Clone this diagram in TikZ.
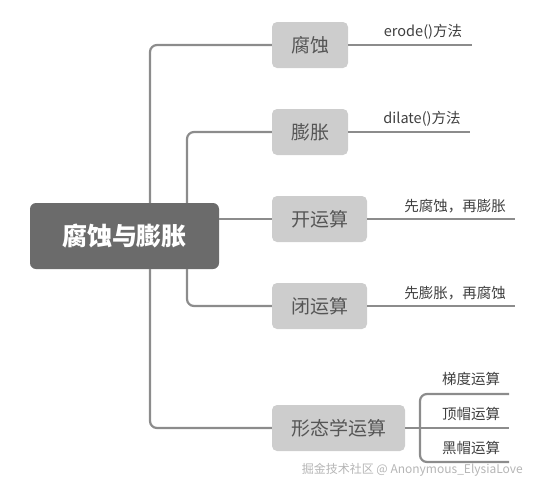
\documentclass[tikz,border=0pt]{standalone}
\usepackage{fontspec}
\setmainfont{Noto Sans CJK SC}
\newfontfamily\cjk{Noto Sans CJK SC}
\definecolor{linegray}{HTML}{8C8C8C}
\definecolor{boxgray}{HTML}{CDCDCD}
\definecolor{rootgray}{HTML}{6B6B6B}
\definecolor{txtgray}{HTML}{555555}
\definecolor{labgray}{HTML}{3F3F3F}
\definecolor{wmgray}{HTML}{B5B5B5}
\tikzset{
  conn/.style={draw=linegray, line width=2.2pt, rounded corners=7pt},
  topic/.style={fill=boxgray, rounded corners=5pt, inner sep=0pt, text=txtgray, font=\cjk\fontsize{19}{22}\selectfont},
  rootbox/.style={fill=rootgray, rounded corners=6pt, inner sep=0pt, text=white, font=\cjk\bfseries\fontsize{25}{28}\selectfont},
  leaflab/.style={text=labgray, font=\cjk\fontsize{14.5}{17}\selectfont, inner sep=0pt, anchor=base},
}
\begin{document}
\begin{tikzpicture}[x=1pt,y=-1pt]
\useasboundingbox (0,0) rectangle (536,488);
% root
\node[rootbox, minimum width=189pt, minimum height=66pt] (root) at (124.5,236) {腐蚀与膨胀};
% topics
\node[topic, minimum width=76pt, minimum height=46pt] (fs) at (310,45) {腐蚀};
\node[topic, minimum width=76pt, minimum height=46pt] (pz) at (310,132) {膨胀};
\node[topic, minimum width=95pt, minimum height=46pt] (kai) at (319.5,219) {开运算};
\node[topic, minimum width=95pt, minimum height=46pt] (bi) at (319.5,306) {闭运算};
\node[topic, minimum width=133pt, minimum height=46pt] (xt) at (338.5,428) {形态学运算};
% trunk coordinates
\coordinate (ta) at (150,236);
\coordinate (tb) at (187,236);
% connectors root -> topics
\begin{scope}[on background layer/.try]
\end{scope}
\draw[conn] (ta |- root.north) |- (fs.west);
\draw[conn] (ta |- root.south) |- (xt.west);
\draw[conn] (tb |- root.north) |- (pz.west);
\draw[conn] (tb |- root.south) |- (bi.west);
\draw[conn] (root.east |- kai.west) -- (kai.west);
% leaf lines
\coordinate (e1) at (472,45);
\coordinate (e2) at (470,132);
\coordinate (e3) at (515,219);
\coordinate (e4) at (515,306);
\draw[conn] (fs.east) -- (e1);
\draw[conn] (pz.east) -- (e2);
\draw[conn] (kai.east) -- (e3);
\draw[conn] (bi.east) -- (e4);
\node[leaflab] (l1) at (423,36) {erode()方法};
\node[leaflab] (l2) at (422,123) {dilate()方法};
\node[leaflab] (l3) at (455,211) {先腐蚀，再膨胀};
\node[leaflab] (l4) at (455,298) {先膨胀，再腐蚀};
% bracket for 形态学运算
\coordinate (br) at (420,428);
\coordinate (b1) at (509,394);
\coordinate (b2) at (509,428);
\coordinate (b3) at (509,462);
\draw[conn] (xt.east) -- (b2);
\draw[conn] (b1) -| (br) |- (b3);
\node[leaflab] (m1) at (471,384) {梯度运算};
\node[leaflab] (m2) at (471,419) {顶帽运算};
\node[leaflab] (m3) at (471,453) {黑帽运算};
% watermark
\node[text=wmgray, font=\cjk\fontsize{12}{14}\selectfont, inner sep=0pt, anchor=base east] (wm) at (523,473) {掘金技术社区 @ Anonymous\_ElysiaLove};
\end{tikzpicture}
\end{document}
